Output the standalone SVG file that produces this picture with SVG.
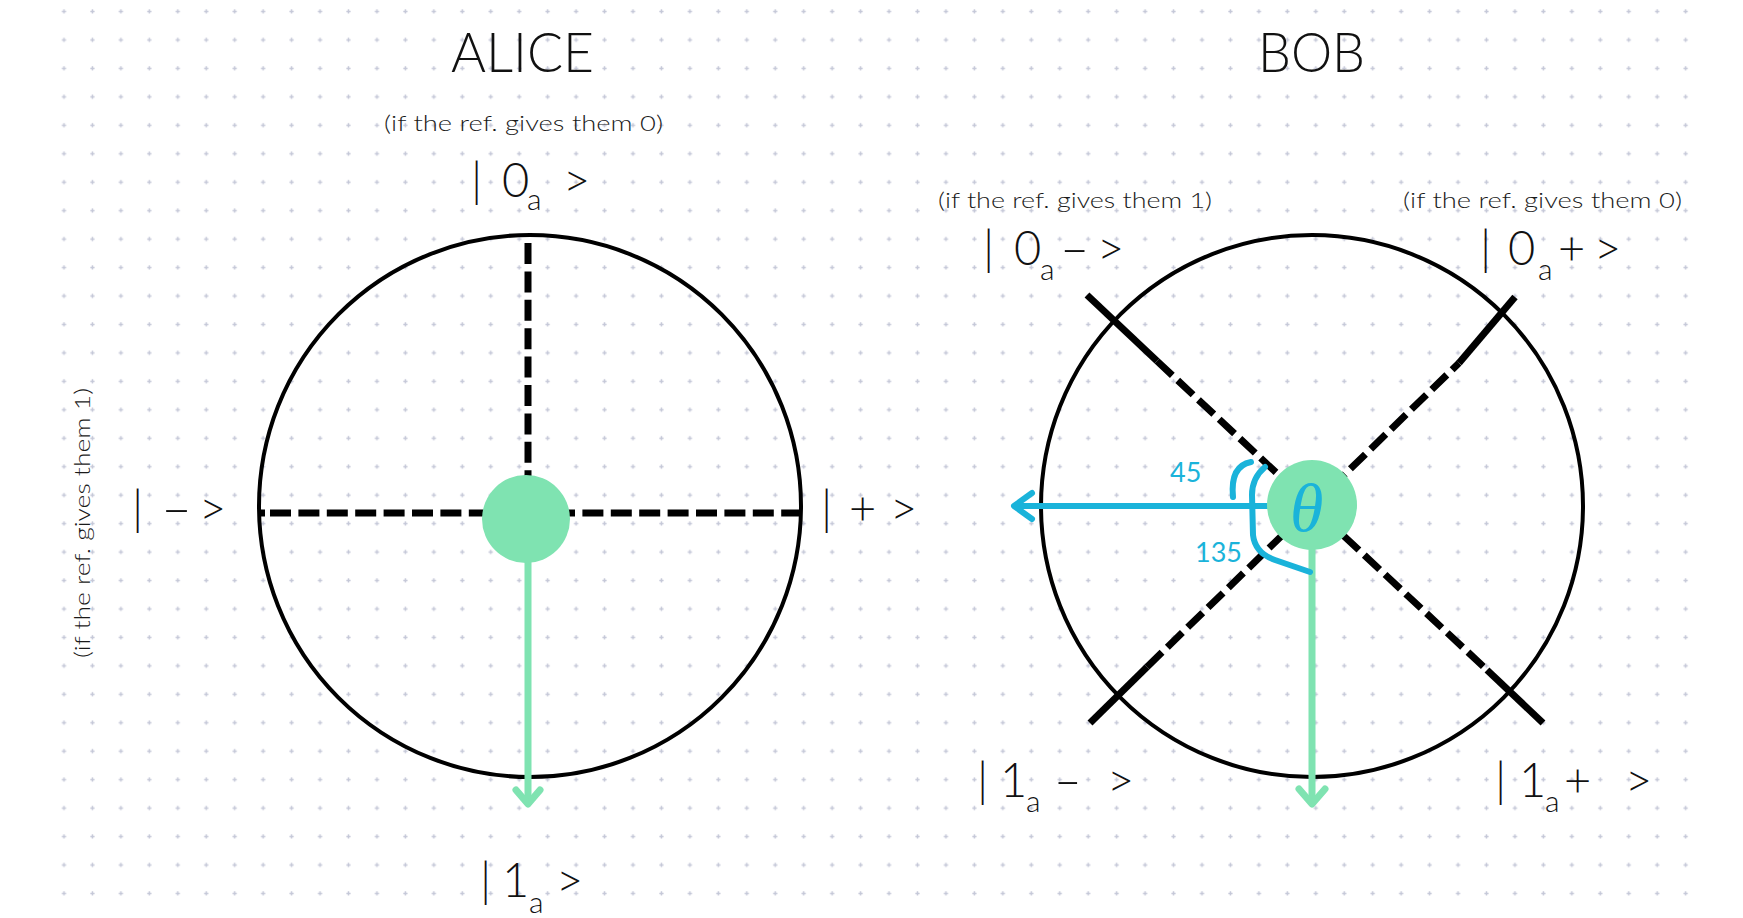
<svg xmlns="http://www.w3.org/2000/svg" width="1743" height="918" viewBox="0 0 1743 918">
<style>
.lbl{font-family:Lato,"Open Sans","DejaVu Sans",sans-serif;font-weight:300;fill:#111;font-size:47px}
.sub{font-size:30px}
.note{font-family:Lato,"Open Sans","DejaVu Sans",sans-serif;font-weight:300;fill:#1a1a1a;font-size:21px}
.title{font-family:Lato,"Open Sans","DejaVu Sans",sans-serif;font-weight:300;fill:#111;font-size:55px}
.ring{fill:none;stroke:#000;stroke-width:4}
.dash{fill:none;stroke:#000;stroke-width:7;stroke-dasharray:21 7.4}
.solid{fill:none;stroke:#000;stroke-width:7}
.green{fill:none;stroke:#7fe3b1;stroke-width:7;stroke-linecap:round;stroke-linejoin:round}
.blue{fill:none;stroke:#1ab3da;stroke-width:6;stroke-linecap:round;stroke-linejoin:round}
.bnum{font-family:Lato,"Open Sans","DejaVu Sans",sans-serif;font-weight:400;fill:#1ab3da;font-size:27px}
</style>
<defs>
<pattern id="dots" patternUnits="userSpaceOnUse" x="49.8" y="-2.7" width="28.45" height="28.45">
<path d="M12.1,14.2 H16.3 M14.2,12.1 V16.3" stroke="#c5c8d8" stroke-width="1.5"/>
</pattern>
</defs>
<rect width="1743" height="918" fill="#fff"/>
<rect x="50" y="0" width="1650" height="906" fill="url(#dots)"/>

<g id="titles">
<text class="title" x="451" y="72" textLength="143" lengthAdjust="spacingAndGlyphs">ALICE</text>
<text class="title" x="1258" y="72" textLength="107" lengthAdjust="spacingAndGlyphs">BOB</text>
</g>

<g id="alice-sphere">
<circle class="ring" cx="530" cy="506" r="271"/>
<line class="dash" x1="528" y1="243" x2="528" y2="500"/>
<line class="dash" x1="270" y1="513" x2="801" y2="513"/>
<line class="solid" x1="259" y1="513" x2="265" y2="513"/>
</g>

<g id="bob-sphere">
<circle class="ring" cx="1312" cy="506" r="271"/>
<line class="dash" x1="1157" y1="361" x2="1487" y2="670"/>
<line class="dash" x1="1147" y1="667" x2="1459" y2="363"/>
<line class="solid" x1="1087" y1="295" x2="1157" y2="361"/>
<line class="solid" x1="1487" y1="670" x2="1543" y2="723"/>
<line class="solid" x1="1090" y1="723" x2="1147" y2="667"/>
<line class="solid" x1="1459" y1="363" x2="1515" y2="297"/>
</g>

<g id="connectors">
<line class="green" x1="528" y1="560" x2="528" y2="803"/>
<path class="green" d="M516,790 L528,804 L540,790"/>
<line class="green" x1="1312" y1="548" x2="1312" y2="803"/>
<path class="green" d="M1299,789 L1312,804 L1325,789"/>
<line class="blue" x1="1016" y1="506" x2="1270" y2="506"/>
<path class="blue" d="M1032,493 L1014,506 L1032,519"/>
<path class="blue" d="M1233,497 Q1230,466 1251,462"/>
<path class="blue" d="M1265,467 Q1252,478 1252,495 L1253,535 Q1255,553 1275,560 L1310,572"/>
</g>

<g id="alice-qubit">
<circle cx="526" cy="519" r="44" fill="#7fe3b1"/>
</g>

<g id="bob-qubit">
<circle cx="1312" cy="505" r="45" fill="#7fe3b1"/>
<text x="1290" y="531" font-family="'Liberation Serif','DejaVu Serif',serif" font-style="italic" font-size="68" fill="#1ab3da">θ</text>
</g>

<g id="angle-labels">
<text class="bnum" x="1170" y="482">45</text>
<text class="bnum" x="1195" y="562">135</text>
</g>

<g id="alice-labels">
<text class="note" x="384" y="131" textLength="279" lengthAdjust="spacingAndGlyphs">(if the ref. gives them 0)</text>
<text class="lbl"><tspan x="471" y="197">|</tspan><tspan x="502" y="197">0</tspan><tspan class="sub" x="527" y="210">a</tspan><tspan x="563" y="197">&gt;</tspan></text>
<text class="lbl"><tspan x="480" y="897">|</tspan><tspan x="502" y="897">1</tspan><tspan class="sub" x="529" y="913">a</tspan><tspan x="556" y="897">&gt;</tspan></text>
<text class="lbl"><tspan x="132" y="525">|</tspan><tspan x="199" y="525">&gt;</tspan></text>
<text class="lbl" transform="translate(160,525) scale(1.9,1)">-</text>
<text class="lbl"><tspan x="821" y="525">|</tspan><tspan x="849" y="525">+</tspan><tspan x="890" y="525">&gt;</tspan></text>
<text class="note" transform="translate(90,523) rotate(-90)" x="-135" y="0" textLength="270" lengthAdjust="spacingAndGlyphs">(if the ref. gives them 1)</text>
</g>

<g id="bob-labels">
<text class="note" x="938" y="208" textLength="274" lengthAdjust="spacingAndGlyphs">(if the ref. gives them 1)</text>
<text class="note" x="1403" y="208" textLength="279" lengthAdjust="spacingAndGlyphs">(if the ref. gives them 0)</text>
<text class="lbl"><tspan x="983" y="265">|</tspan><tspan x="1014" y="265">0</tspan><tspan class="sub" x="1040" y="280">a</tspan><tspan x="1097" y="265">&gt;</tspan></text>
<text class="lbl" transform="translate(1059,265) scale(1.8,1)">-</text>
<text class="lbl"><tspan x="1480" y="265">|</tspan><tspan x="1508" y="265">0</tspan><tspan class="sub" x="1538" y="280">a</tspan><tspan x="1558" y="265">+</tspan><tspan x="1594" y="265">&gt;</tspan></text>
<text class="lbl"><tspan x="977" y="797">|</tspan><tspan x="1000" y="797">1</tspan><tspan class="sub" x="1026" y="812">a</tspan><tspan x="1107" y="797">&gt;</tspan></text>
<text class="lbl" transform="translate(1053,797) scale(1.7,1)">-</text>
<text class="lbl"><tspan x="1495" y="797">|</tspan><tspan x="1519" y="797">1</tspan><tspan class="sub" x="1545" y="812">a</tspan><tspan x="1564" y="797">+</tspan><tspan x="1625" y="797">&gt;</tspan></text>
</g>
</svg>
